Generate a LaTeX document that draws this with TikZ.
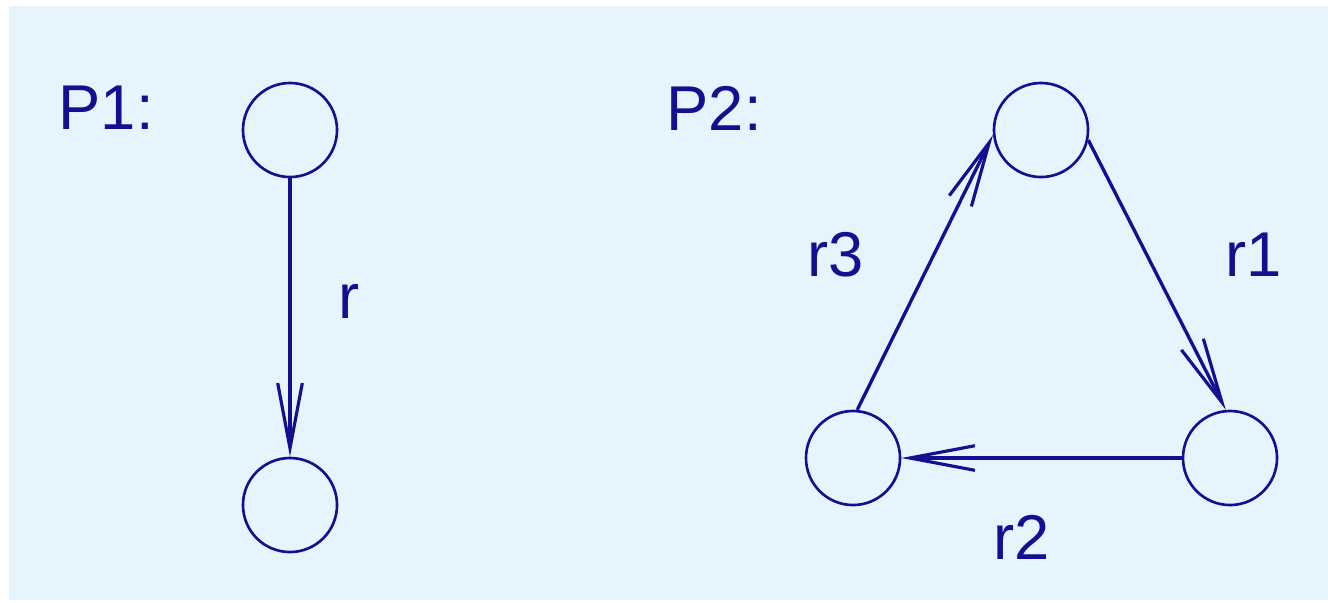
\documentclass[tikz,border=0pt]{standalone}
\usepackage{fontspec}
\setmainfont{Liberation Sans}
\usetikzlibrary{arrows.meta}
\definecolor{bgblue}{RGB}{230,244,254}
\definecolor{navy}{RGB}{16,16,145}
\tikzset{
  state/.style={circle, draw=navy, line width=0.75pt, minimum size=94*0.2845pt, inner sep=0pt},
  edge/.style={draw=navy, line width=0.95pt, -{Straight Barb[length=18.5pt, width=7pt, line width=0.9pt]}},
  lbl/.style={text=navy, font=\fontsize{18}{20}\selectfont, inner sep=0pt}
}
\begin{document}
\begin{tikzpicture}[x=0.01cm, y=-0.01cm]
\useasboundingbox (0,0) rectangle (1328,602);
\fill[bgblue] (9,6) rectangle (1328,600);
% P1
\node[lbl, anchor=west] (p1) at (58,108) {P1:};
\node[state] (a) at (290,130) {};
\node[state] (b) at (290,505) {};
\draw[edge] (a) -- (b);
\node[lbl] (r) at (349,301) {r};
% P2
\node[lbl, anchor=west] (p2) at (666,108) {P2:};
\node[state] (t) at (1041,130) {};
\node[state] (bl) at (853,458) {};
\node[state] (br) at (1230,458) {};
\draw[edge] (t.-12) -- (br.95);
\draw[edge] (br.west) -- (bl.east);
\draw[edge] (bl.85) -- (t.186);
\node[lbl] (r1) at (1254,255) {r1};
\node[lbl] (r2) at (1022,537) {r2};
\node[lbl] (r3) at (836,255) {r3};
\end{tikzpicture}
\end{document}
